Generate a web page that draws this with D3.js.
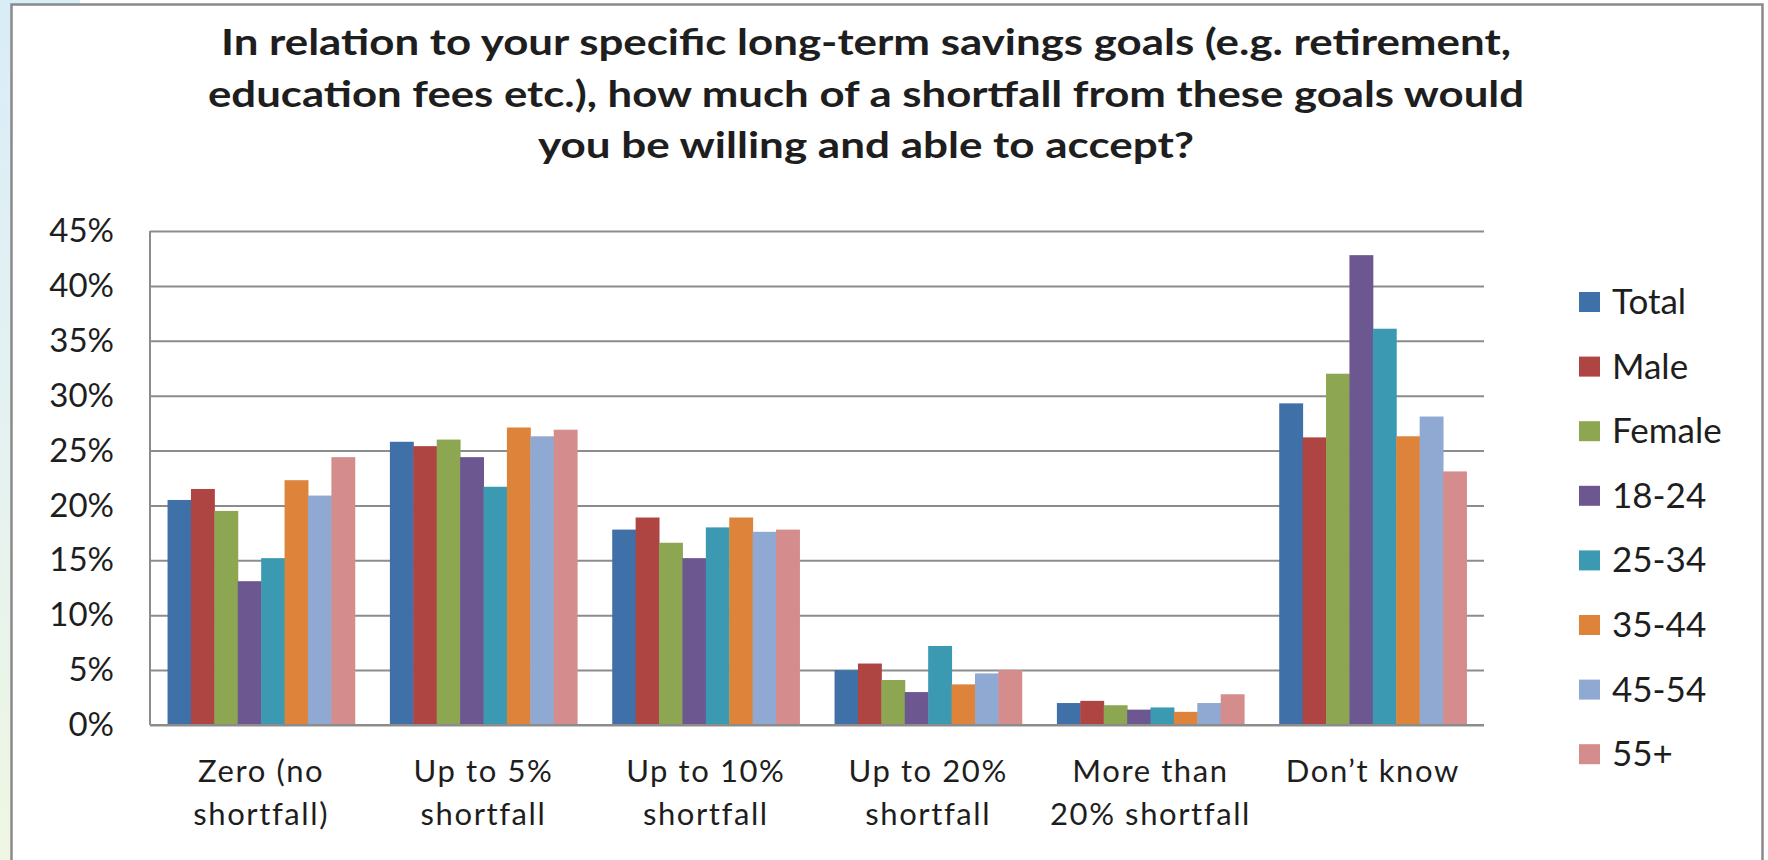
<!DOCTYPE html>
<html>
<head>
<meta charset="utf-8">
<script src="https://cdn.jsdelivr.net/npm/d3@7"></script>
<style>
  html, body { margin: 0; padding: 0; background: #ffffff; }
  svg { display: block; }
  text { font-family: Lato, "Open Sans", sans-serif; fill: #1e1e1e; }
</style>
</head>
<body>
<svg id="chart" width="1768" height="860"></svg>
<script>
// Answer categories (x axis), two-line labels
const categories = [
  ["Zero (no", "shortfall)"],
  ["Up to 5%", "shortfall"],
  ["Up to 10%", "shortfall"],
  ["Up to 20%", "shortfall"],
  ["More than", "20% shortfall"],
  ["Don\u2019t know"]
];

// Respondent groups (series)
const seriesNames = ["Total", "Male", "Female", "18-24", "25-34", "35-44", "45-54", "55+"];
const seriesColors = ["#3f70a8", "#ae4542", "#8ca651", "#6c5791", "#3c99b2", "#de843a", "#8fa9d3", "#d48d8c"];

// Share of respondents per answer, one array per group (in %)
const total    = [20.5, 25.8, 17.8, 5.0, 2.0, 29.3];
const male     = [21.5, 25.4, 18.9, 5.6, 2.2, 26.2];
const female   = [19.5, 26.0, 16.6, 4.1, 1.8, 32.0];
const age1824  = [13.1, 24.4, 15.2, 3.0, 1.4, 42.8];
const age2534  = [15.2, 21.7, 18.0, 7.2, 1.6, 36.1];
const age3544  = [22.3, 27.1, 18.9, 3.7, 1.2, 26.3];
const age4554  = [20.9, 26.3, 17.6, 4.7, 2.0, 28.1];
const age55    = [24.4, 26.9, 17.8, 5.0, 2.8, 23.1];
const seriesValues = [total, male, female, age1824, age2534, age3544, age4554, age55];

// Value axis ticks
const yTicks = [0, 5, 10, 15, 20, 25, 30, 35, 40, 45];

const titleLines = [
  "In relation to your specific long-term savings goals (e.g. retirement,",
  "education fees etc.), how much of a shortfall from these goals would",
  "you be willing and able to accept?"
];
// Rendered width of each title line
const titleWidths = [1290, 1316, 656];

const svg = d3.select("#chart");

// Side decoration and frame
const defs = svg.append("defs");
const grad = defs.append("linearGradient").attr("id", "sideGrad")
  .attr("x1", 0).attr("y1", 0).attr("x2", 0).attr("y2", 1);
grad.append("stop").attr("offset", "0%").attr("stop-color", "#d9edf7");
grad.append("stop").attr("offset", "55%").attr("stop-color", "#e6f2f0");
grad.append("stop").attr("offset", "100%").attr("stop-color", "#eff6e3");
svg.append("rect").attr("x", 0).attr("y", 0).attr("width", 11).attr("height", 860).attr("fill", "url(#sideGrad)");
svg.append("rect").attr("x", 0).attr("y", 0).attr("width", 80).attr("height", 4).attr("fill", "#d9edf7");
svg.append("path")
  .attr("d", "M11.5,860 V4.5 H1762.5 V860")
  .attr("fill", "none").attr("stroke", "#8a8a8a").attr("stroke-width", 2.5);

// Plot area
const plot = { left: 150, right: 1484, top: 231, bottom: 725 };

const x = d3.scaleBand()
  .domain(d3.range(categories.length))
  .range([plot.left, plot.right])
  .paddingInner(0).paddingOuter(0);

// Bars take 8 of 9.5 slot widths; the rest is the gap between groups
const x1 = d3.scaleBand()
  .domain(d3.range(seriesNames.length))
  .range([x.bandwidth() * 0.75 / 9.5, x.bandwidth() - x.bandwidth() * 0.75 / 9.5])
  .padding(0);

const y = d3.scaleLinear().domain([0, 45]).range([plot.bottom, plot.top]);

// Gridlines and y tick labels
const yAxis = d3.axisLeft(y)
  .tickValues(yTicks)
  .tickFormat(d => d + "%")
  .tickSize(-(plot.right - plot.left))
  .tickPadding(36);

const gy = svg.append("g")
  .attr("transform", `translate(${plot.left},0)`)
  .call(yAxis);
gy.select(".domain").remove();
gy.selectAll(".tick line").attr("stroke", "#8c8c8c").attr("stroke-width", 2);
gy.selectAll(".tick text")
  .style("font-family", "Lato, sans-serif")
  .style("font-size", "33px")
  .attr("fill", "#1e1e1e");

// Bars
const groups = svg.append("g").selectAll("g")
  .data(categories.map((c, i) => i))
  .join("g")
  .attr("transform", i => `translate(${x(i)},0)`);

groups.selectAll("rect")
  .data(i => seriesValues.map((vals, s) => ({ s, v: vals[i] })))
  .join("rect")
  .attr("x", d => x1(d.s))
  .attr("width", x1.bandwidth() + 0.5)
  .attr("y", d => y(d.v))
  .attr("height", d => y(0) - y(d.v))
  .attr("fill", d => seriesColors[d.s]);

// Axis lines
svg.append("line")
  .attr("x1", plot.left).attr("x2", plot.left)
  .attr("y1", plot.top).attr("y2", plot.bottom)
  .attr("stroke", "#8c8c8c").attr("stroke-width", 2);
svg.append("line")
  .attr("x1", plot.left).attr("x2", plot.right)
  .attr("y1", plot.bottom).attr("y2", plot.bottom)
  .attr("stroke", "#8c8c8c").attr("stroke-width", 2);

// Category labels
const xAxis = d3.axisBottom(x).tickSize(0).tickFormat("");
const gx = svg.append("g")
  .attr("transform", `translate(0,${plot.bottom})`)
  .call(xAxis);
gx.select(".domain").remove();
gx.selectAll(".tick").each(function(i) {
  const t = d3.select(this).append("text")
    .attr("text-anchor", "middle")
    .style("font-size", "31px")
    .style("letter-spacing", "1.6px")
    .attr("fill", "#1e1e1e");
  categories[i].forEach((line, k) => {
    t.append("tspan").attr("x", 0).attr("y", 57 + k * 43).text(line);
  });
});

// Legend
const legend = svg.append("g").selectAll("g")
  .data(seriesNames)
  .join("g")
  .attr("transform", (d, i) => `translate(1579,${302 + i * 64.6})`);
legend.append("rect")
  .attr("x", 0).attr("y", -10).attr("width", 21).attr("height", 20)
  .attr("fill", (d, i) => seriesColors[i]);
legend.append("text")
  .attr("x", 33).attr("y", 12)
  .style("font-size", "35px")
  .text(d => d);

// Title
svg.append("g").selectAll("text")
  .data(titleLines)
  .join("text")
  .attr("x", 866)
  .attr("y", (d, i) => 55 + i * 51.5)
  .attr("text-anchor", "middle")
  .attr("textLength", (d, i) => titleWidths[i])
  .attr("lengthAdjust", "spacingAndGlyphs")
  .style("font-size", "36px")
  .style("font-weight", "700")
  .text(d => d);
</script>
</body>
</html>
